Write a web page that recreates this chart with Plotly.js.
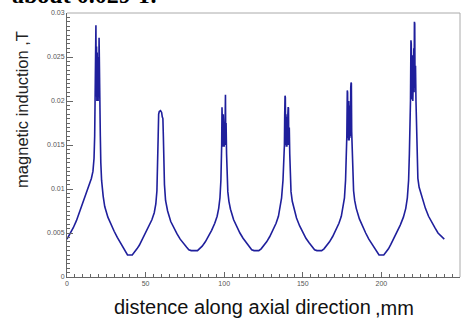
<!DOCTYPE html>
<html>
<head>
<meta charset="utf-8">
<script src="https://cdn.plot.ly/plotly-3.0.1.min.js"></script>
<style>html,body{margin:0;padding:0;background:#fff;}#chart{width:463px;height:318px;}</style>
</head>
<body>
<div id="chart"></div>
<script>
// distance along axial direction (mm)
const axialPos = [
  0,2,4,6,8,10,12,14,15.5,16.5,17.2,17.6,
  17.8,18.0,18.2,18.4,18.6,18.8,19.0,19.1,19.2,19.4,19.5,19.6,19.8,20.0,20.1,20.2,20.4,20.6,20.8,21.0,21.2,21.5,
  22,23,24,26,28,30,32,34,36,37.5,38.5,41.5,43,
  44.5,46,48,50,52,54,55.5,56.5,57.2,57.7,58.0,58.3,58.7,59.5,60.2,60.6,61.0,61.3,61.6,62,62.7,64,66,68,70,72,74,76,77.5,79,83,84.5,
  86,88,90,92,94,95.5,96.5,97.3,97.9,98.2,98.4,
  98.6,98.8,99.0,99.1,99.2,99.4,99.5,99.6,99.8,100.0,100.1,100.2,100.4,100.6,100.8,101.0,101.2,101.5,101.8,
  102.3,103,104,106,108,110,112,114,116,117.5,119,122,123.5,
  125,127,129,131,133,134.5,135.5,136.5,137.4,137.9,138.3,
  138.5,138.7,138.9,139.1,139.2,139.3,139.5,139.6,139.7,139.9,140.0,140.1,140.3,140.5,140.7,140.9,141.1,141.4,141.7,142,
  142.5,143.3,144.5,146,148,150,152,154,156,157.5,159,162,163.5,
  165,167,169,171,173,174.5,175.5,176.5,177.2,177.7,178,
  178.3,178.5,178.7,178.9,179.0,179.1,179.3,179.4,179.5,179.7,179.8,179.9,180.1,180.3,180.5,180.7,180.9,181.1,181.4,181.8,
  182.3,183,184,186,188,190,192,194,196,197.5,198.5,201.5,203,
  204.5,206,208,210,212,214,215.5,216.5,217.3,217.8,218.2,
  218.5,218.8,219.0,219.2,219.3,219.4,219.6,219.7,219.8,220.0,220.1,220.2,220.4,220.6,220.8,221.0,221.2,221.4,221.7,222.0,222.3,222.6,
  223.2,224,226,228,230,232,234,236,238,240
];
// magnetic induction (T)
const inductionT = [
  0.0043,0.0049,0.0056,0.0064,0.0074,0.0085,0.0095,0.0104,0.0112,0.0120,0.0135,0.0160,
  0.0200,0.0240,0.0270,0.0286,0.0205,0.0262,0.0200,0.0240,0.0255,0.0202,0.0235,0.0250,0.0200,0.0245,0.0210,0.0205,0.0272,0.0220,0.0268,0.0200,0.0160,0.0130,
  0.0110,0.0092,0.0080,0.0068,0.0059,0.0052,0.0045,0.0039,0.0033,0.0028,0.0025,0.0025,0.0028,
  0.0032,0.0036,0.0043,0.0050,0.0057,0.0065,0.0073,0.0083,0.0098,0.0125,0.0160,0.0185,0.0188,0.0189,0.0187,0.0182,0.0180,0.0160,0.0130,0.0105,0.0087,0.0075,0.0063,0.0055,0.0049,0.0043,0.0038,0.0034,0.0031,0.0030,0.0030,0.0032,
  0.0035,0.0040,0.0046,0.0053,0.0061,0.0069,0.0078,0.0090,0.0110,0.0130,0.0150,
  0.0193,0.0150,0.0192,0.0160,0.0148,0.0185,0.0160,0.0150,0.0180,0.0148,0.0170,0.0185,0.0150,0.0200,0.0207,0.0155,0.0175,0.0140,0.0115,
  0.0097,0.0086,0.0077,0.0065,0.0057,0.0050,0.0044,0.0039,0.0034,0.0031,0.0030,0.0030,0.0032,
  0.0035,0.0040,0.0046,0.0053,0.0061,0.0069,0.0078,0.0090,0.0110,0.0130,0.0150,
  0.0185,0.0206,0.0204,0.0150,0.0175,0.0185,0.0148,0.0170,0.0180,0.0148,0.0168,0.0182,0.0150,0.0185,0.0193,0.0192,0.0150,0.0170,0.0140,0.0115,
  0.0097,0.0086,0.0076,0.0067,0.0058,0.0050,0.0044,0.0039,0.0034,0.0031,0.0030,0.0030,0.0032,
  0.0035,0.0040,0.0046,0.0053,0.0061,0.0069,0.0078,0.0090,0.0110,0.0135,0.0160,
  0.0212,0.0210,0.0158,0.0200,0.0170,0.0155,0.0195,0.0170,0.0155,0.0195,0.0170,0.0158,0.0200,0.0160,0.0215,0.0221,0.0220,0.0165,0.0140,0.0115,
  0.0098,0.0087,0.0078,0.0066,0.0057,0.0050,0.0043,0.0037,0.0031,0.0027,0.0025,0.0025,0.0028,
  0.0032,0.0037,0.0044,0.0051,0.0059,0.0068,0.0078,0.0090,0.0110,0.0140,0.0170,
  0.0200,0.0269,0.0265,0.0205,0.0235,0.0250,0.0202,0.0235,0.0252,0.0200,0.0230,0.0255,0.0205,0.0260,0.0210,0.0290,0.0288,0.0215,0.0240,0.0200,0.0165,0.0130,
  0.0112,0.0102,0.0090,0.0078,0.0069,0.0062,0.0056,0.0050,0.0046,0.0043
];
const xTickVals = [0,50,100,150,200,250];
const xTickText = ['0','50','100','150','200','250'];
const yTickVals = [0,0.005,0.01,0.015,0.02,0.025,0.03];
const yTickText = ['0','0.005','0.01','0.015','0.02','0.025','0.03'];

const axisGray = '#666';
const tickFont = {family:'Liberation Sans, Arial, sans-serif', size:7, color:'#555'};

const trace = {
  x: axialPos, y: inductionT, type:'scatter', mode:'lines',
  line:{color:'#1f1f9c', width:1.6}, hoverinfo:'skip'
};

const layout = {
  width:463, height:318,
  margin:{l:67, r:3, t:13, b:41},
  paper_bgcolor:'#fff', plot_bgcolor:'#fff',
  showlegend:false,
  xaxis:{
    range:[0,250], tickvals:xTickVals, ticktext:xTickText,
    ticks:'inside', ticklen:5, tickwidth:1, tickcolor:axisGray,
    showline:true, linecolor:axisGray, linewidth:1,
    showgrid:false, zeroline:false, tickfont:tickFont,
    minor:{dtick:5, ticks:'inside', ticklen:3, tickcolor:axisGray, showgrid:false}
  },
  yaxis:{
    range:[0,0.03], tickvals:yTickVals, ticktext:yTickText,
    ticks:'inside', ticklen:6, tickwidth:1, tickcolor:axisGray,
    showline:true, linecolor:axisGray, linewidth:1,
    showgrid:false, zeroline:false, tickfont:tickFont,
    minor:{dtick:0.0005, ticks:'inside', ticklen:3, tickcolor:axisGray, showgrid:false}
  },
  shapes:[
    {type:'line', xref:'paper', yref:'paper', x0:0, x1:1, y0:1, y1:1, line:{color:'#aaa', width:1}},
    {type:'line', xref:'paper', yref:'paper', x0:1, x1:1, y0:0, y1:1, line:{color:'#aaa', width:1}}
  ],
  annotations:[
    {text:'magnetic induction ,T', xref:'paper', yref:'paper', x:-0.1145, y:0.633,
     xanchor:'center', yanchor:'middle', textangle:-90, showarrow:false,
     font:{family:'Liberation Sans, Arial, sans-serif', size:16.5, color:'#222'}},
    {text:'distence along axial direction', xref:'paper', yref:'paper', x:0.1145, y:-0.114,
     xanchor:'left', yanchor:'middle', showarrow:false,
     font:{family:'Liberation Sans, Arial, sans-serif', size:20, color:'#111'}},
    {text:',mm', xref:'paper', yref:'paper', x:(373-67)/393, y:-0.118,
     xanchor:'left', yanchor:'middle', showarrow:false,
     font:{family:'Liberation Sans, Arial, sans-serif', size:20, color:'#111'}},
    {text:'<b>about 0.029 T.</b>', xref:'paper', yref:'paper', x:-0.145, y:1.011,
     xanchor:'left', yanchor:'bottom', showarrow:false,
     font:{family:'Liberation Serif, Times New Roman, serif', size:24, color:'#000'}}
  ]
};

Plotly.newPlot('chart', [trace], layout, {staticPlot:true, displayModeBar:false});
</script>
</body>
</html>
